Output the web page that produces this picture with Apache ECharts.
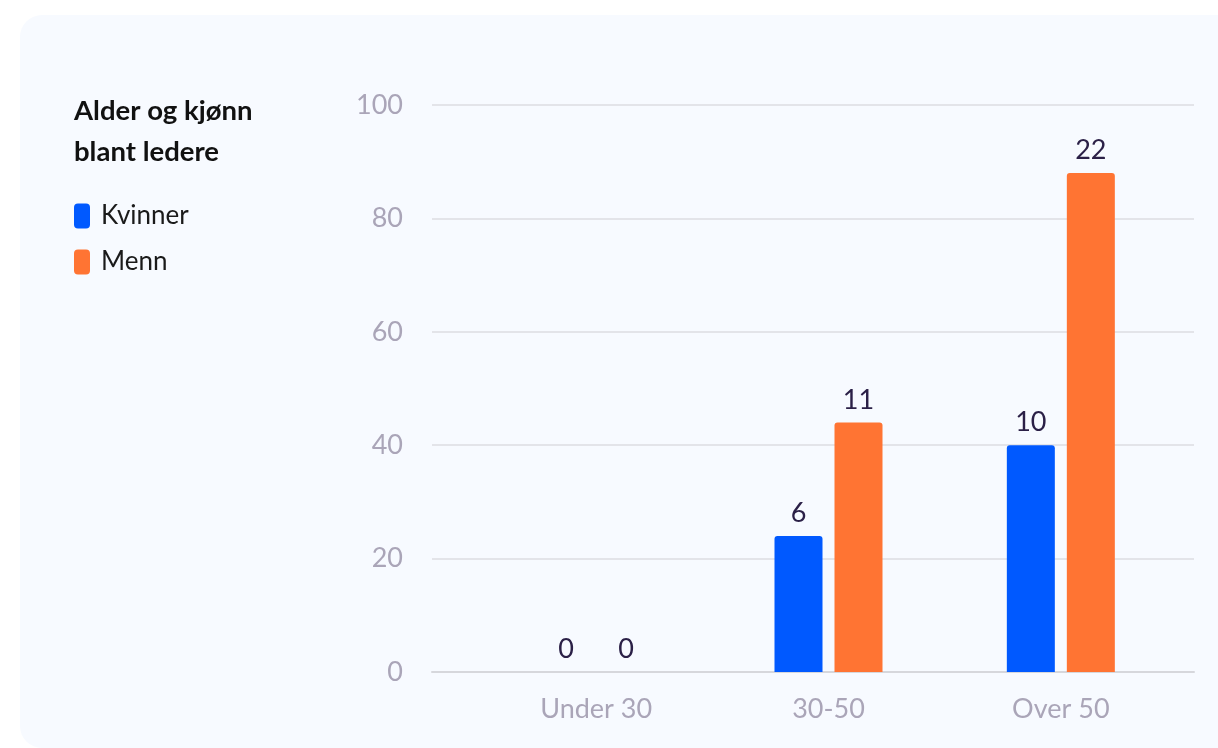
<!DOCTYPE html>
<html>
<head>
<meta charset="utf-8">
<script src="https://cdn.jsdelivr.net/npm/echarts@6/dist/echarts.min.js"></script>
<style>
  html, body { margin: 0; padding: 0; background: #ffffff; width: 1218px; height: 748px; overflow: hidden; }
  #card { position: absolute; left: 20px; top: 15px; width: 1230px; height: 733px; background: #f7faff; border-radius: 22px; }
  #chart { position: absolute; left: 0; top: 0; width: 1218px; height: 748px; }
</style>
</head>
<body>
<div id="card"></div>
<div id="chart"></div>
<script>
// Data
const categories = ['Under 30', '30-50', 'Over 50'];
const seriesNames = ['Kvinner', 'Menn'];
// Bar heights
const kvinnerValues = [0, 24, 40];
const mennValues = [0, 44, 88];
// Numbers printed above the bars
const kvinnerLabels = [0, 6, 10];
const mennLabels = [0, 11, 22];
const yTicks = [0, 20, 40, 60, 80, 100];

const FONT = 'Lato';
const chart = echarts.init(document.getElementById('chart'), null, { renderer: 'canvas' });

const labelStyle = (labels) => ({
  show: true,
  position: 'top',
  distance: 9,
  fontFamily: FONT,
  fontSize: 27,
  color: '#2b2047',
  formatter: (p) => String(labels[p.dataIndex])
});

chart.setOption({
  backgroundColor: 'transparent',
  animation: false,
  textStyle: { fontFamily: FONT },
  title: {
    text: 'Alder og kjønn\nblant ledere',
    left: 74,
    top: 91,
    padding: 0,
    textStyle: { fontFamily: FONT, fontSize: 27.5, fontWeight: 'bold', color: '#111111', lineHeight: 41 }
  },
  legend: {
    orient: 'vertical',
    left: 74,
    top: 203,
    padding: 0,
    itemWidth: 16,
    itemHeight: 25,
    itemGap: 20,
    icon: 'roundRect',
    data: seriesNames,
    textStyle: { fontFamily: FONT, fontSize: 26, color: '#1a1a1a', padding: [0, 0, 0, 6] }
  },
  grid: [
    { left: 432, right: 24, top: 105, bottom: 76 },
    { left: 480, right: 41, top: 105, bottom: 76 }
  ],
  xAxis: [
    {
      gridIndex: 0, type: 'value', min: 0, max: 1,
      axisLine: { show: true, onZero: false, lineStyle: { color: '#d6d7dc', width: 2 } },
      axisTick: { show: false }, axisLabel: { show: false }, splitLine: { show: false }
    },
    {
      gridIndex: 1, type: 'category', data: categories,
      axisLine: { show: false }, axisTick: { show: false },
      axisLabel: { fontFamily: FONT, fontSize: 27, color: '#aaa5b8', margin: 24 }
    }
  ],
  yAxis: [
    {
      gridIndex: 0, type: 'value', min: 0, max: 100, interval: 20,
      axisLine: { show: false }, axisTick: { show: false },
      axisLabel: {
        fontFamily: FONT, fontSize: 27, color: '#aaa5b8', margin: 29,
        formatter: (v) => (yTicks.indexOf(v) >= 0 ? String(v) : '')
      },
      splitLine: { lineStyle: { color: '#dcdde2', width: 1.5 } }
    },
    {
      gridIndex: 1, type: 'value', min: 0, max: 100, interval: 20,
      show: false, splitLine: { show: false }
    }
  ],
  series: [
    {
      name: seriesNames[0], type: 'bar', xAxisIndex: 1, yAxisIndex: 1,
      data: kvinnerValues, barWidth: 48, barGap: '25%',
      itemStyle: { color: '#0059ff', borderRadius: [3, 3, 0, 0] },
      label: labelStyle(kvinnerLabels)
    },
    {
      name: seriesNames[1], type: 'bar', xAxisIndex: 1, yAxisIndex: 1,
      data: mennValues, barWidth: 48, barGap: '25%',
      itemStyle: { color: '#ff7433', borderRadius: [3, 3, 0, 0] },
      label: labelStyle(mennLabels)
    }
  ]
});
</script>
</body>
</html>
